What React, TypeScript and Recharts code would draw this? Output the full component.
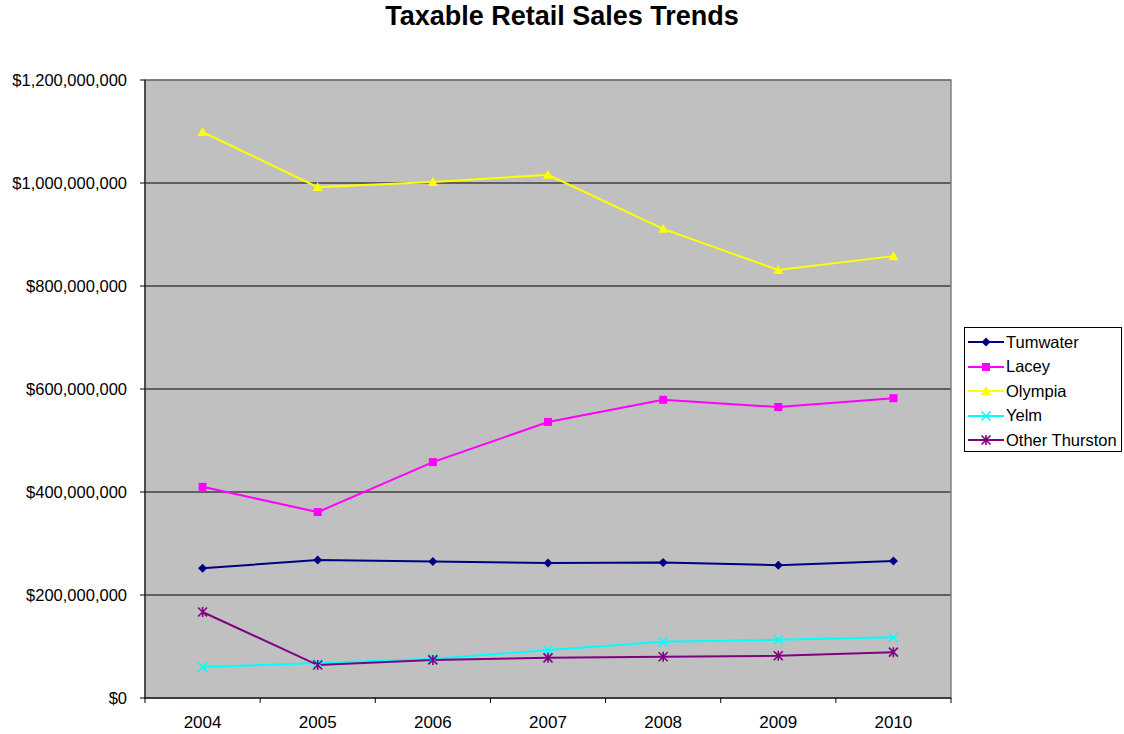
import React from 'react';
import { LineChart, Line, XAxis, YAxis, CartesianGrid, ReferenceArea } from 'recharts';

const years = ['2004', '2005', '2006', '2007', '2008', '2009', '2010'];
const tumwater = [252e6, 268e6, 265e6, 262e6, 263e6, 258e6, 266e6];
const lacey = [410e6, 361e6, 458e6, 536e6, 579e6, 565e6, 582e6];
const olympia = [1099e6, 992e6, 1002e6, 1016e6, 911e6, 831e6, 858e6];
const yelm = [60e6, 68e6, 76e6, 93e6, 109e6, 113e6, 118e6];
const otherThurston = [167e6, 64e6, 74e6, 78e6, 80e6, 82e6, 89e6];
const yTicks = [0, 200e6, 400e6, 600e6, 800e6, 1000e6, 1200e6];

type Shape = 'diamond' | 'square' | 'triangle' | 'x' | 'star';

const series: { key: string; name: string; color: string; shape: Shape }[] = [
  { key: 'tumwater', name: 'Tumwater', color: '#000080', shape: 'diamond' },
  { key: 'lacey', name: 'Lacey', color: '#ff00ff', shape: 'square' },
  { key: 'olympia', name: 'Olympia', color: '#ffff00', shape: 'triangle' },
  { key: 'yelm', name: 'Yelm', color: '#00ffff', shape: 'x' },
  { key: 'other', name: 'Other Thurston', color: '#800080', shape: 'star' },
];

const data = years.map((year, i) => ({
  year,
  tumwater: tumwater[i],
  lacey: lacey[i],
  olympia: olympia[i],
  yelm: yelm[i],
  other: otherThurston[i],
}));

const FONT = '"Liberation Sans", Arial, sans-serif';

const Marker = ({ cx, cy, shape, color }: { cx: number; cy: number; shape: Shape; color: string }) => {
  const r = 4.5;
  if (shape === 'diamond')
    return <polygon points={`${cx},${cy - r} ${cx + r},${cy} ${cx},${cy + r} ${cx - r},${cy}`} fill={color} />;
  if (shape === 'square') return <rect x={cx - 4} y={cy - 4} width={8} height={8} fill={color} />;
  if (shape === 'triangle')
    return <polygon points={`${cx},${cy - 5} ${cx + 5},${cy + 4} ${cx - 5},${cy + 4}`} fill={color} />;
  if (shape === 'x')
    return (
      <path d={`M${cx - r},${cy - r}L${cx + r},${cy + r}M${cx - r},${cy + r}L${cx + r},${cy - r}`} stroke={color} strokeWidth={1.6} />
    );
  return (
    <path
      d={`M${cx - r},${cy - r}L${cx + r},${cy + r}M${cx - r},${cy + r}L${cx + r},${cy - r}M${cx},${cy - r - 0.5}L${cx},${cy + r + 0.5}`}
      stroke={color}
      strokeWidth={1.6}
    />
  );
};

const fmtMoney = (v: number) => '$' + v.toLocaleString('en-US');

const XTick = (props: any) => {
  const { x, y, payload, index } = props;
  const off = payload.offset || 57.5;
  return (
    <g>
      <line x1={x - off} y1={y} x2={x - off} y2={y + 5} stroke="#000" />
      {index === years.length - 1 && <line x1={x + off} y1={y} x2={x + off} y2={y + 5} stroke="#000" />}
      <text x={x} y={y + 24} dy="0.355em" textAnchor="middle" fontSize={17} fontFamily={FONT} fill="#000">
        {payload.value}
      </text>
    </g>
  );
};

const App: React.FC = () => {
  return (
    <div style={{ position: 'absolute', left: 0, top: 0, width: 1124, height: 734, background: '#fff', fontFamily: FONT }}>
      <div style={{ position: 'absolute', top: 1, width: 1124, textAlign: 'center', fontWeight: 'bold', fontSize: 27 }}>
        Taxable Retail Sales Trends
      </div>
      <LineChart width={1124} height={734} data={data} margin={{ top: 80, right: 173, left: 0, bottom: 0 }}>
        <CartesianGrid vertical={false} stroke="#000" fill="#c0c0c0" fillOpacity={1} />
        <ReferenceArea y1={0} y2={1200e6} fill="none" stroke="#808080" strokeWidth={1.5} />
        <XAxis
          dataKey="year"
          scale="band"
          height={36}
          tickSize={0}
          tickMargin={0}
          tickLine={false}
          tick={<XTick />}
          axisLine={{ stroke: '#000' }}
          interval={0}
        />
        <YAxis
          width={145}
          domain={[0, 1200e6]}
          ticks={yTicks}
          tickFormatter={fmtMoney}
          tickSize={5}
          tickMargin={13}
          axisLine={{ stroke: '#000' }}
          tickLine={{ stroke: '#000' }}
          tick={{ fill: '#000', fontSize: 16.5, fontFamily: FONT }}
        />
        {series.map((s) => (
          <Line
            key={s.key}
            dataKey={s.key}
            name={s.name}
            stroke={s.color}
            strokeWidth={2}
            isAnimationActive={false}
            dot={(p: any) => <Marker key={`${s.key}-${p.index}`} cx={p.cx} cy={p.cy} shape={s.shape} color={s.color} />}
            activeDot={false}
          />
        ))}
      </LineChart>
      <div
        style={{
          position: 'absolute',
          left: 964,
          top: 327,
          width: 158,
          height: 125,
          border: '1px solid #000',
          boxSizing: 'border-box',
          background: '#fff',
          paddingTop: 2,
        }}
      >
        {series.map((s) => (
          <div
            key={s.key}
            style={{ display: 'flex', alignItems: 'center', height: 24.5, fontSize: 16.5, whiteSpace: 'nowrap' }}
          >
            <svg width={40} height={14} style={{ marginLeft: 1, flexShrink: 0 }}>
              <line x1={2} y1={7} x2={38} y2={7} stroke={s.color} strokeWidth={2} />
              <Marker cx={20} cy={7} shape={s.shape} color={s.color} />
            </svg>
            <span style={{ color: '#000' }}>{s.name}</span>
          </div>
        ))}
      </div>
    </div>
  );
};

export default App;
